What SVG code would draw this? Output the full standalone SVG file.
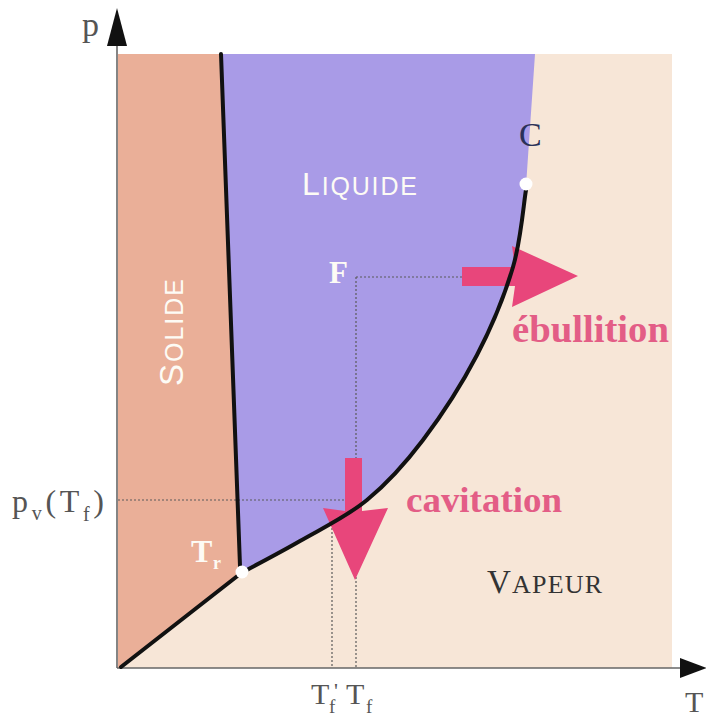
<svg xmlns="http://www.w3.org/2000/svg" width="706" height="722" viewBox="0 0 706 722">
<defs>
<style>
.serif{font-family:"Liberation Serif","DejaVu Serif",serif}
.sans{font-family:"Liberation Sans","DejaVu Sans",sans-serif}
.dot{fill:none;stroke:#5a5a5a;stroke-width:1.2;stroke-dasharray:2 2}
.phase{fill:none;stroke:#111;stroke-width:4;stroke-linecap:round;stroke-linejoin:round}
.axis{fill:none;stroke:#666;stroke-width:1.6}
.head{fill:#111}
.pink{fill:#e8467b}
.ptext{fill:#e35d86;font-weight:bold}
.gray{fill:#555}
.white{fill:#fdfbf5}
</style>
</defs>
<rect width="706" height="722" fill="#ffffff"/>
<g id="regions">
<rect id="vapeur-region" x="118" y="54" width="554" height="614" fill="#f7e6d7"/>
<polygon id="solide-region" points="118,54 221,54 241,572 120,668 118,668" fill="#eaaf98"/>
<path id="liquide-region" d="M221,54 L535,54 L526,186 C523.8,201.2 521.2,239.2 513,267 C504.8,294.8 492,326.2 477,355 C462,383.8 441.3,415.8 423,440 C404.7,464.2 387.5,483.2 367,500 C346.5,516.8 320.7,529 300,541 C279.3,553 252.5,566.8 243,572 L241,572 Z" fill="#a99be7"/>
</g>
<g id="connectors">
<path class="dot" d="M118,500 H360"/>
<path class="dot" d="M332,524 V668"/>
<path class="dot" d="M356,277 V668"/>
<path class="dot" d="M356,277 H464"/>
<path class="axis" d="M117,668 V40"/>
<polygon class="head" points="117,8 107,46 127,46"/>
<path class="axis" d="M117,668 H684"/>
<polygon class="head" points="707,668 680,658 680,678"/>
</g>
<g id="arrow-ebullition">
<polygon class="pink" points="462,267 515,267 512,246 578,276 512,307 515,286 462,286"/>
</g>
<g id="arrow-cavitation">
<polygon class="pink" points="345,458 362,458 362,511 388,508 355,580 323,508 345,511"/>
</g>
<g id="curves">
<path class="phase" d="M221,54 L240,566"/>
<path class="phase" d="M121,667 L240,574"/>
<path class="phase" d="M243,572 C252.5,566.8 279.3,553 300,541 C320.7,529 346.5,516.8 367,500 C387.5,483.2 404.7,464.2 423,440 C441.3,415.8 462,383.8 477,355 C492,326.2 504.8,294.8 513,267 C521.2,239.2 523.8,201.2 526,190"/>
</g>
<g id="point-triple">
<circle cx="242" cy="572" r="6.5" fill="#ffffff"/>
<text class="serif white" x="191" y="562" font-size="32" font-weight="bold">T</text>
<text class="serif white" x="213" y="569" font-size="18" font-weight="bold">r</text>
</g>
<g id="point-critical">
<circle cx="526" cy="184" r="6.5" fill="#ffffff"/>
<text class="serif" x="519" y="146" font-size="34" fill="#2b3158">C</text>
</g>
<g id="point-F">
<text class="serif white" x="329" y="283" font-size="31" font-weight="bold">F</text>
</g>
<g id="label-liquide">
<text class="sans white" x="302" y="195" textLength="115" lengthAdjust="spacing"><tspan font-size="32">L</tspan><tspan font-size="25">IQUIDE</tspan></text>
</g>
<g id="label-solide">
<text class="sans white" transform="translate(183,386) rotate(-90)" x="0" y="0" textLength="107" lengthAdjust="spacing"><tspan font-size="33">S</tspan><tspan font-size="25">OLIDE</tspan></text>
</g>
<g id="label-vapeur">
<text class="serif" x="487" y="593" fill="#333" textLength="115" lengthAdjust="spacing"><tspan font-size="33">V</tspan><tspan font-size="26">APEUR</tspan></text>
</g>
<g id="label-ebullition">
<text class="serif ptext" x="512" y="342" font-size="37" textLength="157" lengthAdjust="spacingAndGlyphs">ébullition</text>
</g>
<g id="label-cavitation">
<text class="serif ptext" x="406" y="512" font-size="36" textLength="156" lengthAdjust="spacingAndGlyphs">cavitation</text>
</g>
<g id="axis-labels">
<text class="serif gray" x="82" y="36" font-size="34">p</text>
<text class="serif gray" x="685" y="712" font-size="30">T</text>
<text class="serif gray" x="12" y="512" font-size="32" textLength="92" lengthAdjust="spacing"><tspan>p</tspan><tspan font-size="20" dy="8">v</tspan><tspan dy="-8">(T</tspan><tspan font-size="20" dy="9">f</tspan><tspan dy="-9">)</tspan></text>
<text class="serif gray" x="311" y="704" font-size="30">T</text>
<text class="serif gray" x="329" y="713" font-size="19">f</text>
<text class="serif gray" x="334" y="698" font-size="22">'</text>
<text class="serif gray" x="346" y="704" font-size="30">T</text>
<text class="serif gray" x="366" y="713" font-size="19">f</text>
</g>
</svg>
